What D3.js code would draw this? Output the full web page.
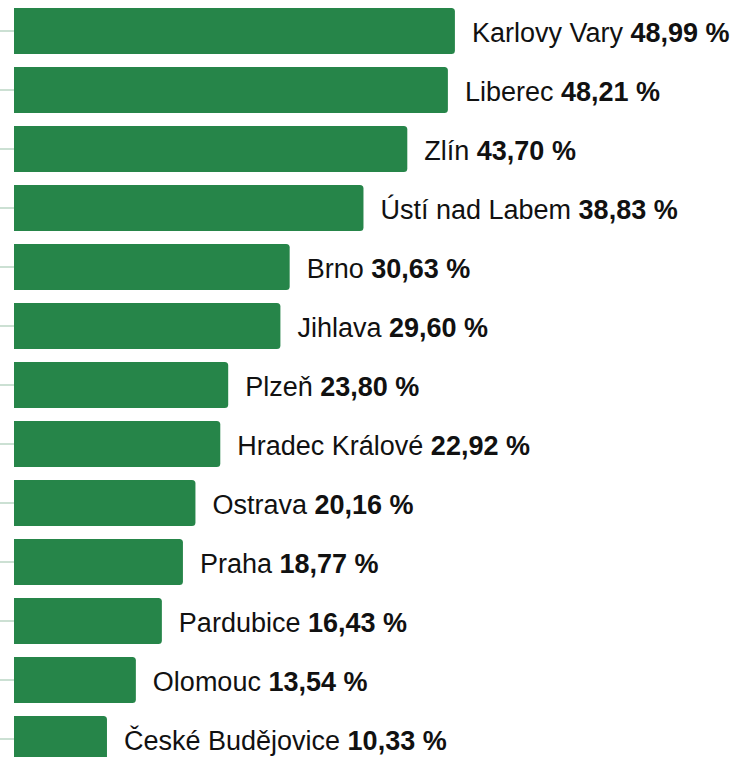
<!DOCTYPE html>
<html>
<head>
<meta charset="utf-8">
<script src="https://cdn.jsdelivr.net/npm/d3@7"></script>
<style>
  html, body { margin: 0; padding: 0; background: #fff; }
  svg { display: block; }
  text { font-family: "Liberation Sans", Arial, sans-serif; }
</style>
</head>
<body>
<svg id="chart" width="736" height="757"></svg>
<script>
// Share of votes per city
const cities = ["Karlovy Vary", "Liberec", "Zlín", "Ústí nad Labem", "Brno", "Jihlava", "Plzeň",
  "Hradec Králové", "Ostrava", "Praha", "Pardubice", "Olomouc", "České Budějovice"];
const shares = [48.99, 48.21, 43.70, 38.83, 30.63, 29.60, 23.80, 22.92, 20.16, 18.77, 16.43, 13.54, 10.33];

const svg = d3.select("#chart");
const left = 14;

const x = d3.scaleLinear().domain([0, 50]).range([left, left + 450]);
const y = d3.scaleBand().domain(cities).range([8 - 6.5, 8 - 6.5 + 59 * cities.length]).paddingInner(13 / 59).paddingOuter(6.5 / 59);

// Left axis: short ticks only, no domain line
const axis = svg.append("g")
  .attr("transform", `translate(${left},0)`)
  .call(d3.axisLeft(y).tickSize(14).tickFormat(""));
axis.select(".domain").remove();
axis.selectAll(".tick line").attr("stroke", "#a9cbb6").attr("stroke-width", 1.2);

const fmt = v => d3.format(".2f")(v).replace(".", ",") + " %";
const r = 3.5;

// Bars with rounded right corners
function barPath(x0, x1, y0, h) {
  return `M${x0},${y0}H${x1 - r}Q${x1},${y0} ${x1},${y0 + r}V${y0 + h - r}Q${x1},${y0 + h} ${x1 - r},${y0 + h}H${x0}Z`;
}

const rows = svg.append("g").selectAll("g")
  .data(cities.map((c, i) => ({ city: c, share: shares[i] })))
  .join("g");

rows.append("path")
  .attr("fill", "#268549")
  .attr("d", d => barPath(x(0), x(d.share), y(d.city), y.bandwidth()));

const label = rows.append("text")
  .attr("x", d => x(d.share) + 17)
  .attr("y", d => y(d.city) + y.bandwidth() / 2)
  .attr("dy", "0.4em")
  .attr("font-size", 27)
  .attr("fill", "#111");

label.append("tspan").text(d => d.city + " ");
label.append("tspan").attr("font-weight", "bold").text(d => fmt(d.share));
</script>
</body>
</html>
